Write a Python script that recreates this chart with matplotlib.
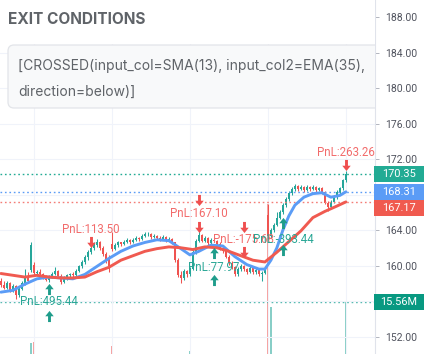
import matplotlib
matplotlib.use("Agg")
import matplotlib.pyplot as plt
from matplotlib.path import Path
from matplotlib.patches import Rectangle, FancyBboxPatch
from matplotlib.transforms import IdentityTransform, Bbox, TransformedBbox

# ---------------- data ----------------
opens = [158.3, 157.8, 157.5, 158.0, 157.2, 157.7, 156.7, 157.4, 158.0, 158.7,
         159.5, 160.1, 159.2, 159.3, 159.0, 158.6, 158.4, 158.7, 159.1, 159.4,
         158.8, 158.1, 158.6, 158.9, 159.0, 158.9, 159.4, 159.9, 160.4, 161.0,
         161.5, 162.0, 162.3, 162.7, 162.0, 161.3, 160.9, 162.4, 161.9, 162.3,
         162.6, 162.4, 162.7, 162.9, 162.6, 162.9, 163.1, 163.0, 163.3, 163.5,
         163.6, 163.2, 163.3, 163.1, 163.0, 163.2, 162.9, 163.0, 162.6, 160.6,
         158.9, 158.6, 159.4, 159.0, 159.6, 161.5, 162.8, 163.4, 162.8, 163.1,
         162.5, 162.9, 162.8, 162.4, 162.0, 161.6, 161.0, 160.3, 159.8, 159.0,
         159.6, 160.0, 159.6, 159.3, 159.7, 159.3, 159.5, 159.0, 159.2, 165.7,
         163.3, 164.0, 164.6, 165.4, 166.0, 166.8, 167.5, 168.2, 168.6, 169.0,
         168.6, 168.9, 168.5, 168.9, 168.6, 168.9, 168.5, 168.7, 168.3, 167.1,
         166.6, 167.2, 167.7, 168.3, 168.7, 169.6]
highs = [158.6, 158.2, 158.2, 158.1, 157.9, 157.8, 157.6, 158.2, 159.6, 159.3,
         162.6, 160.4, 159.5, 159.6, 159.2, 158.9, 158.9, 159.3, 159.8, 159.5,
         159.0, 158.8, 159.1, 159.2, 159.3, 159.6, 160.1, 160.6, 161.2, 161.8,
         162.3, 162.6, 163.0, 162.8, 162.2, 161.5, 161.2, 163.8, 162.5, 162.8,
         162.7, 162.9, 163.1, 163.0, 163.1, 163.3, 163.2, 163.5, 163.8, 163.8,
         163.7, 163.5, 163.4, 163.3, 163.4, 163.3, 163.2, 163.1, 162.7, 160.9,
         159.4, 159.6, 159.5, 159.8, 161.7, 163.0, 164.0, 163.5, 163.3, 163.2,
         163.1, 163.2, 162.9, 162.6, 162.2, 161.8, 161.2, 160.5, 160.0, 159.8,
         160.2, 160.1, 159.7, 159.9, 159.8, 159.7, 159.6, 159.4, 159.8, 166.9,
         164.2, 164.8, 166.0, 166.3, 167.0, 167.7, 168.4, 168.8, 169.2, 169.1,
         169.1, 169.0, 169.1, 169.0, 169.1, 169.0, 168.9, 168.8, 168.4, 167.3,
         167.4, 167.9, 168.5, 168.9, 169.8, 170.7]
lows = [157.6, 157.3, 157.4, 157.0, 157.0, 156.2, 156.5, 157.2, 157.8, 158.0,
        159.3, 158.9, 158.8, 158.9, 158.5, 158.2, 158.1, 158.6, 158.9, 158.6,
        157.9, 158.0, 158.4, 158.7, 158.7, 158.8, 159.3, 159.7, 160.2, 160.6,
        161.3, 161.7, 162.1, 161.8, 161.1, 160.3, 159.3, 161.6, 161.7, 162.1,
        162.2, 162.3, 162.5, 162.4, 162.5, 162.8, 162.8, 162.9, 163.2, 163.3,
        163.0, 163.1, 162.9, 162.8, 162.9, 162.7, 162.8, 162.4, 160.4, 158.7,
        158.0, 158.4, 158.7, 158.8, 159.5, 161.3, 162.6, 162.6, 162.6, 162.3,
        162.4, 162.6, 162.2, 161.8, 161.4, 160.8, 160.1, 159.6, 158.8, 158.8,
        159.4, 159.4, 159.1, 159.2, 159.1, 159.1, 158.8, 158.3, 159.0, 163.0,
        163.1, 163.8, 164.4, 165.2, 165.8, 166.6, 167.3, 168.0, 168.4, 168.4,
        168.5, 168.3, 168.4, 168.4, 168.5, 168.3, 168.4, 168.1, 166.9, 166.2,
        166.4, 167.0, 167.5, 168.1, 168.5, 169.4]
closes = [157.8, 157.5, 158.0, 157.2, 157.7, 156.7, 157.4, 158.0, 158.7, 158.3,
          162.3, 159.2, 159.3, 159.0, 158.6, 158.4, 158.7, 159.1, 159.4, 158.8,
          158.1, 158.6, 158.9, 159.0, 158.9, 159.4, 159.9, 160.4, 161.0, 161.5,
          162.0, 162.3, 162.7, 162.0, 161.3, 160.6, 159.6, 161.9, 162.3, 162.6,
          162.4, 162.7, 162.9, 162.6, 162.9, 163.1, 163.0, 163.3, 163.5, 163.6,
          163.2, 163.3, 163.1, 163.0, 163.2, 162.9, 163.0, 162.6, 160.6, 158.9,
          158.6, 159.4, 159.0, 159.6, 161.5, 162.8, 163.4, 162.8, 163.1, 162.5,
          162.9, 162.8, 162.4, 162.0, 161.6, 161.0, 160.3, 159.8, 159.0, 159.6,
          160.0, 159.6, 159.3, 159.7, 159.3, 159.5, 159.0, 159.2, 159.6, 163.3,
          164.0, 164.6, 165.4, 166.0, 166.8, 167.5, 168.2, 168.6, 169.0, 168.6,
          168.9, 168.5, 168.9, 168.6, 168.9, 168.5, 168.7, 168.3, 167.1, 166.6,
          167.2, 167.7, 168.3, 168.7, 169.6, 170.35]
volumes_m = [6.1, 5.8, 6.4, 7.0, 5.9, 8.2, 6.6, 6.0, 7.4, 6.8,
             11.2, 11.3, 7.1, 6.2, 5.7, 6.5, 7.9, 6.3, 6.9, 5.8,
             7.3, 6.4, 5.6, 5.9, 6.1, 6.7, 7.0, 7.5, 8.1, 7.2,
             6.6, 7.8, 8.4, 7.0, 6.9, 7.6, 8.8, 10.9, 6.5, 6.2,
             5.9, 6.0, 6.3, 5.8, 6.1, 5.7, 5.5, 6.2, 6.6, 6.0,
             5.9, 5.6, 5.8, 5.4, 5.7, 6.0, 5.5, 6.3, 8.9, 9.2,
             8.1, 7.2, 6.8, 10.3, 8.6, 7.9, 7.4, 6.5, 6.0, 6.2,
             5.8, 6.1, 6.4, 6.6, 6.9, 7.1, 7.3, 6.8, 7.7, 6.9,
             6.3, 6.0, 5.9, 6.2, 5.8, 6.0, 6.4, 6.7, 7.0, 26.0,
             15.0, 9.1, 8.7, 8.0, 7.6, 7.8, 8.3, 7.2, 6.9, 6.4,
             6.1, 6.0, 5.8, 6.2, 5.9, 6.1, 6.0, 6.3, 7.9, 8.2,
             7.1, 6.8, 7.3, 7.7, 8.8, 15.56]

sma_idx = [0, 4, 8, 12, 16, 20, 24, 28, 32, 36, 40, 44, 48, 52, 56, 60, 63, 66,
           70, 74, 78, 82, 86, 88, 90, 92, 94, 96, 98, 101, 104, 107, 110, 113, 115]
sma_val = [157.0, 157.2, 157.9, 158.5, 158.7, 158.6, 158.5, 159.0, 159.9, 160.8,
           161.6, 162.2, 162.6, 162.9, 162.8, 161.9, 161.2, 161.6, 162.3, 162.2,
           161.0, 160.1, 159.6, 159.6, 160.6, 162.0, 164.0, 165.6, 166.8, 167.7,
           168.1, 168.2, 167.7, 167.9, 168.31]
ema_idx = [0, 4, 8, 12, 16, 20, 24, 28, 32, 36, 40, 44, 48, 52, 56, 60, 64, 68,
           72, 76, 80, 84, 88, 92, 96, 100, 104, 108, 112, 115]
ema_val = [159.1, 158.9, 158.7, 158.9, 158.7, 158.6, 158.6, 158.7, 159.3, 159.8,
           160.6, 161.1, 161.6, 161.9, 162.1, 162.0, 161.8, 162.1, 162.0, 161.6,
           161.1, 160.6, 160.4, 161.5, 162.7, 163.9, 165.4, 166.1, 166.7, 167.17]

exit_label_idx = [30, 66, 81, 115]
exit_label_price = [164.1, 165.9, 162.9, 172.7]
exit_label_text = ["PnL:113.50", "PnL:167.10", "PnL:-175.68", "PnL:263.26"]
exit_arrow_idx = [30, 66, 66, 81, 81, 115]
exit_arrow_price = [162.6, 167.4, 164.3, 164.3, 161.5, 171.3]

entry_label_idx = [16, 71, 94]
entry_label_price = [155.9, 159.8, 162.9]
entry_label_text = ["PnL:495.44", "PnL:77.97", "PnL:-393.44"]
entry_arrow_idx = [16, 16, 71, 71, 94, 94]
entry_arrow_price = [157.4, 154.3, 161.4, 158.4, 164.8, 161.75]

last_close = 170.35
last_sma = 168.31
last_ema = 167.17
last_volume_m = 15.56

price_ticks = [152, 160, 164, 172, 176, 180, 184, 188]
grid_prices = [152, 156, 160, 164, 168, 172, 176, 180, 184, 188]
grid_idx = [11, 37, 63, 89, 115]

title_text = "EXIT CONDITIONS"
condition_lines = ["[CROSSED(input_col=SMA(13), input_col2=EMA(35),",
                   "direction=below)]"]

# ---------------- styling ----------------
UP = "#26a69a"
DOWN = "#ef5350"
BLUE = "#5b9cf6"
W, H = 433, 354
PX = IdentityTransform()

fig = plt.figure(figsize=(W / 100, H / 100), dpi=100)
fig.patch.set_facecolor("white")
ax = fig.add_axes([0, 0, 375 / W, 1])
vax = ax.twinx()
vax.set_zorder(1)
ax.set_zorder(2)
ax.patch.set_visible(False)
vax.patch.set_facecolor("white")

n = len(closes)
idx = list(range(n))
ax.set_xlim(-0.3, 124.7)
ax.set_ylim(150.03, 189.92)
vax.set_ylim(10.0, 47.85)

for s in ["top", "left", "bottom"]:
    ax.spines[s].set_visible(False)
    vax.spines[s].set_visible(False)
vax.spines["right"].set_visible(False)
ax.spines["right"].set_color("#e0e3eb")
ax.spines["right"].set_linewidth(0.8)
vax.set_yticks([])
vax.tick_params(right=False, labelright=False)
ax.set_xticks([])
ax.yaxis.tick_right()
ax.set_yticks(price_ticks)
ax.set_yticklabels([f"{t:.2f}" for t in price_ticks], family="Roboto")
ax.tick_params(axis="y", length=3, width=0.7, color="#b2b5be",
               labelsize=7.5, labelcolor="#50535e", pad=4.5)

# grid
for g in grid_prices:
    ax.axhline(g, color="#f0f3fa", lw=0.8, zorder=0)
for g in grid_idx:
    ax.axvline(g, color="#f0f3fa", lw=0.8, zorder=0)

# volume
vcols = [UP if c >= o else DOWN for o, c in zip(opens, closes)]
vax.bar(idx, volumes_m, width=0.6, color=vcols, alpha=0.55, linewidth=0)

# candles
ccols = vcols
ax.vlines(idx, lows, highs, colors=ccols, lw=0.75, zorder=2)
ax.bar(idx, [c - o if abs(c - o) > 0.05 else 0.06 for o, c in zip(opens, closes)],
       bottom=opens, width=0.75, color=ccols, linewidth=0, zorder=2.1)

# moving averages
ax.plot(sma_idx, sma_val, color=BLUE, lw=2.1, zorder=3, solid_capstyle="round")
ax.plot(ema_idx, ema_val, color="#f05a50", lw=2.1, zorder=3, solid_capstyle="round")

# last-value dotted lines
dot = (0, (1.2, 2.0))
ax.axhline(last_close, color="#22ab94", lw=1.0, ls=dot, zorder=2.5)
ax.axhline(last_sma, color=BLUE, lw=1.0, ls=dot, zorder=2.5)
ax.axhline(last_ema, color="#f47c76", lw=1.0, ls=dot, zorder=2.5)
vax.axhline(last_volume_m, color="#26a69a", lw=1.0, ls=dot, alpha=0.8)

# arrows
up_path = Path([(0, 0.5), (0.38, 0.02), (0.13, 0.02), (0.13, -0.5),
                (-0.13, -0.5), (-0.13, 0.02), (-0.38, 0.02), (0, 0.5)], closed=True)
down_path = Path([(x, -y) for x, y in up_path.vertices], closed=True)
ax.plot(entry_arrow_idx, entry_arrow_price, ls="none", marker=up_path,
        ms=8, color="#1f9d8b", mec="none", zorder=4)
ax.plot(exit_arrow_idx, exit_arrow_price, ls="none", marker=down_path,
        ms=8, color="#ef4f4f", mec="none", zorder=4)

for i, p, t in zip(exit_label_idx, exit_label_price, exit_label_text):
    ax.text(i, p, t, ha="center", va="center", fontsize=8.3, color="#f26b6b",
            family="Roboto", zorder=5)
for i, p, t in zip(entry_label_idx, entry_label_price, entry_label_text):
    ax.text(i, p, t, ha="center", va="center", fontsize=8.3, color="#2aa796",
            family="Roboto", zorder=5)

# header panel and condition box
fig.add_artist(Rectangle((0, H - 44), 375, 44, transform=PX, facecolor="white",
                         edgecolor="none", zorder=10))
box = FancyBboxPatch((8, H - 108), 380, 63, boxstyle="round,pad=0,rounding_size=6",
                     transform=PX, facecolor="#f8f9fa", edgecolor="#e2e4e9",
                     lw=0.9, zorder=11)
box.set_clip_box(TransformedBbox(Bbox([[0, 0], [375, H]]), PX))
fig.add_artist(box)
fig.text(8, H - 19, title_text, transform=PX, ha="left", va="center",
         fontsize=11.1, fontweight="bold", color="#5f6368", family="Inter", zorder=12)
for k, line in enumerate(condition_lines):
    fig.text(18, H - 66 - 26 * k, line, transform=PX, ha="left", va="center",
             fontsize=10.0, color="#5f6368", family="Inter", zorder=12)

# right-side value boxes
fig.canvas.draw()
bh = 16
y_close = ax.transData.transform((0, last_close))[1]
y_sma = ax.transData.transform((0, last_sma))[1]
y_ema = ax.transData.transform((0, last_ema))[1]
y_vol = vax.transData.transform((0, last_volume_m))[1]
# stack price boxes so they do not overlap
ys = [y_close, y_sma, y_ema]
for k in range(1, 3):
    if ys[k - 1] - ys[k] < bh:
        ys[k] = ys[k - 1] - bh
entries = [(ys[0], f"{last_close:.2f}", "#22ab94"),
           (ys[1], f"{last_sma:.2f}", BLUE),
           (ys[2], f"{last_ema:.2f}", "#f05a4f"),
           (y_vol, f"{last_volume_m:.2f}M", "#089981")]
for yc, txt, col in entries:
    fig.add_artist(Rectangle((374, yc - bh / 2), 50, bh, transform=PX,
                             facecolor=col, edgecolor="none", zorder=13))
    fig.text(399, yc, txt, transform=PX, ha="center", va="center", fontsize=7.9,
             color="white", family="Roboto", zorder=14)

fig.savefig("out.png", dpi=100, facecolor="white")
